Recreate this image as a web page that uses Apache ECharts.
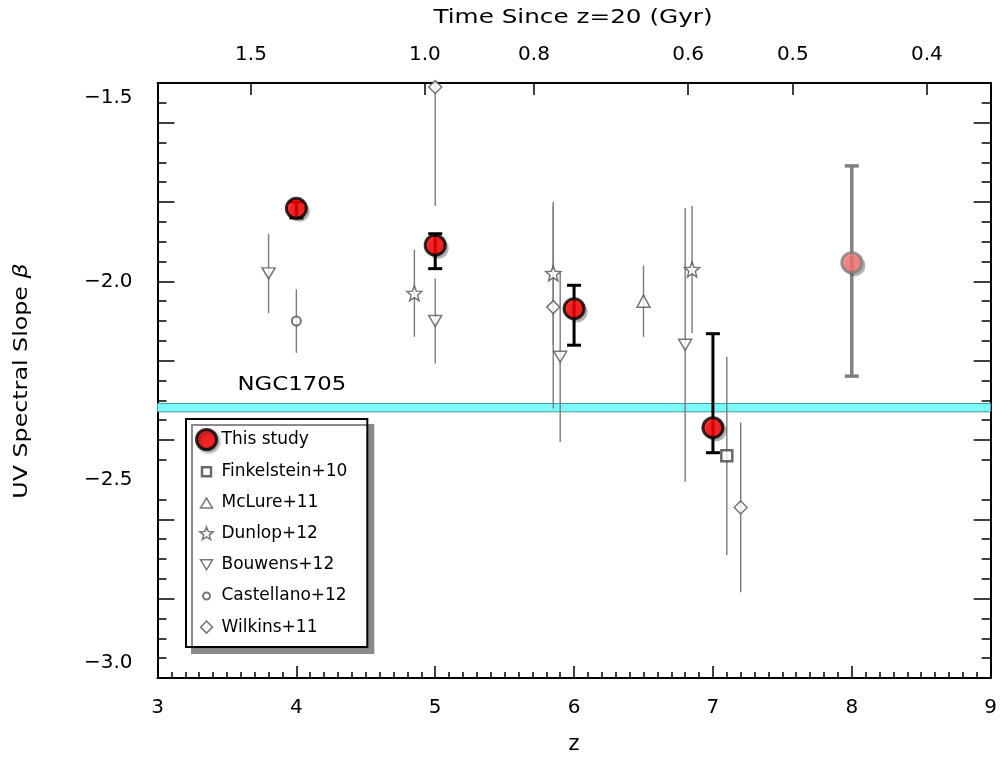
<!DOCTYPE html>
<html>
<head>
<meta charset="utf-8">
<script src="https://cdn.jsdelivr.net/npm/echarts@6/dist/echarts.min.js"></script>
<style>
  html, body { margin: 0; padding: 0; background: #ffffff; }
  #chart { width: 1000px; height: 762px; }
</style>
</head>
<body>
<div id="chart"></div>
<script>
// ---- UV spectral slope measurements ----
// This study (z = 4..7): beta with lower / upper error-bar ends
const studyZ    = [4.0, 5.0, 6.0, 7.0];
const studyBeta = [-1.816, -1.909, -2.069, -2.369];
const studyLow  = [-1.840, -1.968, -2.161, -2.432];
const studyHigh = [-1.800, -1.880, -2.010, -2.132];

// This study, z ~ 8 (shown in lighter colours)
const study8Z    = [8.0];
const study8Beta = [-1.953];
const study8Low  = [-2.239];
const study8High = [-1.709];

// Literature values: redshift, beta, symmetric 1-sigma error
const finkelZ = [7.1],              finkelBeta = [-2.44],                 finkelErr = [0.25];
const mclureZ = [6.5],              mclureBeta = [-2.05],                 mclureErr = [0.09];
const dunlopZ = [4.85, 5.85, 6.85], dunlopBeta = [-2.03, -1.98, -1.97],   dunlopErr = [0.11, 0.18, 0.16];
const bouwZ   = [3.8, 5.0, 5.9, 6.8], bouwBeta = [-1.98, -2.10, -2.19, -2.16], bouwErr = [0.10, 0.107, 0.215, 0.345];
const castZ   = [4.0],              castBeta   = [-2.10],                 castErr   = [0.08];
const wilkZ   = [5.0, 5.85, 7.2],   wilkBeta   = [-1.51, -2.065, -2.57],  wilkErr   = [0.30, 0.255, 0.214];

// NGC1705 reference band (beta range)
const ngcLow = -2.329, ngcHigh = -2.308;

// ---- axis ticks ----
const zRange = [3, 9];
const betaRange = [-3.0, -1.5];
const betaMajorTicks = [-2.8, -2.6, -2.4, -2.2, -2.0, -1.8, -1.6];
const timeTicks = [1.5, 1.0, 0.8, 0.6, 0.5, 0.4];   // Gyr since z = 20

// Flat LCDM (H0 = 70, Om = 0.3) cosmic age, used for the top time axis
const H0inv = 977.8 / 70;                // Gyr
const OmegaL = 0.7, OmegaM = 0.3;
const ageFactor = 2 / (3 * Math.sqrt(OmegaL)) * H0inv;
const kAge = Math.sqrt(OmegaL / OmegaM);
function ageAt(z) { return ageFactor * Math.asinh(kAge * Math.pow(1 + z, -1.5)); }
function zAtAge(t) { return Math.pow(Math.sinh(t / ageFactor) / kAge, -2 / 3) - 1; }
const age20 = ageAt(20);
const timeTickZ = timeTicks.map(t => zAtAge(t + age20));

const FONT = '"DejaVu Sans", sans-serif';
const MINUS = '\u2212';

// ---- helpers ----
function pairs(xs, ys) { return xs.map((x, i) => [x, ys[i]]); }
function symErr(xs, ys, es) { return xs.map((x, i) => [x, ys[i] - es[i], ys[i] + es[i]]); }
function boundsErr(xs, lo, hi) { return xs.map((x, i) => [x, lo[i], hi[i]]); }

function starPath(cx, cy, R, r) {
  let d = '';
  for (let i = 0; i < 10; i++) {
    const a = -Math.PI / 2 + i * Math.PI / 5;
    const rad = i % 2 ? r : R;
    d += (i ? 'L' : 'M') + (cx + rad * Math.cos(a)).toFixed(2) + ' ' + (cy + rad * Math.sin(a)).toFixed(2) + ' ';
  }
  return d + 'Z';
}
const STAR = 'path://' + starPath(10, 10, 10, 4.3);
// legend icons drawn inside a fixed 20x20 frame so they keep a small size
function framed(d) { return 'path://M0 0 M20 20 ' + d; }
const ICON_SQUARE  = framed('M5.5 5.5 L14.5 5.5 L14.5 14.5 L5.5 14.5 Z');
const ICON_TRI_UP  = framed('M4 15 L16 15 L10 5 Z');
const ICON_STAR    = framed(starPath(10, 10, 7, 3));
const ICON_TRI_DN  = framed('M4 5 L16 5 L10 15 Z');
const ICON_CIRCLE  = framed('M6.5 10 A3.5 3.5 0 1 0 13.5 10 A3.5 3.5 0 1 0 6.5 10 Z');
const ICON_DIAMOND = framed('M10 4 L16 10 L10 16 L4 10 Z');

function errorBarSeries(name, data, color, width, cap, z) {
  return {
    type: 'custom', name: name, z: z, clip: true, silent: true,
    renderItem: function (params, api) {
      const top = api.coord([api.value(0), api.value(2)]);
      const bot = api.coord([api.value(0), api.value(1)]);
      const style = { stroke: color, lineWidth: width };
      const kids = [{ type: 'line', shape: { x1: top[0], y1: top[1], x2: bot[0], y2: bot[1] }, style: style }];
      if (cap > 0) {
        kids.push({ type: 'line', shape: { x1: top[0] - cap / 2, y1: top[1], x2: top[0] + cap / 2, y2: top[1] }, style: style });
        kids.push({ type: 'line', shape: { x1: bot[0] - cap / 2, y1: bot[1], x2: bot[0] + cap / 2, y2: bot[1] }, style: style });
      }
      return { type: 'group', children: kids };
    },
    encode: { x: 0, y: [1, 2] },
    data: data
  };
}

// soft drop shadow drawn as its own layer under the big markers
function shadowSeries(name, data, z) {
  return {
    type: 'scatter', name: name, z: z, silent: true, data: data,
    symbol: 'circle', symbolSize: 21, symbolOffset: [3, 3],
    itemStyle: { color: 'rgba(0,0,0,0.32)', shadowColor: 'rgba(0,0,0,0.35)', shadowBlur: 3 },
    emphasis: { disabled: true }
  };
}

const litStyle = { color: '#ffffff', borderColor: '#555555', borderWidth: 1.5 };
function litScatter(name, data, symbol, size, extra) {
  return Object.assign({
    type: 'scatter', name: name, z: 3, data: data,
    symbol: symbol, symbolSize: size,
    itemStyle: Object.assign({}, litStyle),
    emphasis: { disabled: true }
  }, extra || {});
}

const legendText = { fontFamily: FONT, fontSize: 17, color: '#000' };
const legendLit = { color: '#ffffff', borderColor: '#555555', borderWidth: 1.5 };

const option = {
  backgroundColor: '#ffffff',
  animation: false,
  grid: { left: 157.5, right: 4, top: 83, bottom: 84, containLabel: false },
  graphic: [
    {
      type: 'text', x: 573, y: 18, scaleX: 1.3, silent: true,
      style: { text: 'Time Since z=20 (Gyr)', fontFamily: FONT, fontSize: 19, fill: '#000',
               align: 'center', verticalAlign: 'middle' }
    },
    {
      type: 'text', x: 22, y: 381, rotation: Math.PI / 2, scaleX: 1.25, silent: true,
      style: {
        text: '{n|UV Spectral Slope }{b|\u03b2}', align: 'center', verticalAlign: 'middle',
        rich: { n: { fontFamily: FONT, fontSize: 19, fill: '#000' },
                b: { fontFamily: FONT, fontSize: 19, fill: '#000', fontStyle: 'italic' } }
      }
    }
  ],
  legend: {
    orient: 'vertical',
    left: 186, top: 419,
    padding: [9, 20, 9, 9],
    itemWidth: 20, itemHeight: 20, itemGap: 9.4,
    backgroundColor: '#ffffff',
    borderColor: '#000000', borderWidth: 2,
    shadowColor: '#8a8a8a', shadowBlur: 0, shadowOffsetX: 6, shadowOffsetY: 6,
    textStyle: legendText,
    selectedMode: false,
    data: [
      { name: 'This study', icon: 'circle',
        itemStyle: { color: '#ff0000', borderColor: '#000', borderWidth: 3,
                     shadowColor: 'rgba(0,0,0,0.4)', shadowBlur: 3, shadowOffsetX: 2, shadowOffsetY: 2 } },
      { name: 'Finkelstein+10', icon: ICON_SQUARE, itemStyle: { color: '#fff', borderColor: '#444', borderWidth: 2.5 } },
      { name: 'McLure+11', icon: ICON_TRI_UP, itemStyle: legendLit },
      { name: 'Dunlop+12', icon: ICON_STAR, itemStyle: legendLit },
      { name: 'Bouwens+12', icon: ICON_TRI_DN, itemStyle: legendLit },
      { name: 'Castellano+12', icon: ICON_CIRCLE, itemStyle: { color: '#fff', borderColor: '#555', borderWidth: 2 } },
      { name: 'Wilkins+11', icon: ICON_DIAMOND, itemStyle: legendLit }
    ]
  },
  xAxis: [
    {
      type: 'value', position: 'bottom', min: zRange[0], max: zRange[1], interval: 1,
      name: 'z', nameLocation: 'middle', nameGap: 56,
      nameTextStyle: { fontFamily: FONT, fontSize: 21, color: '#000' },
      axisLine: { show: true, onZero: false, lineStyle: { color: '#000', width: 2 } },
      axisTick: { show: true, inside: true, length: 12, lineStyle: { color: '#000', width: 1.5 } },
      minorTick: { show: true, splitNumber: 10, length: 6, lineStyle: { color: '#000', width: 1.5 } },
      axisLabel: { fontFamily: FONT, fontSize: 20, color: '#000', margin: 20 },
      splitLine: { show: false }, minorSplitLine: { show: false }
    },
    {
      type: 'value', position: 'top', min: zRange[0], max: zRange[1],
      axisLine: { show: true, onZero: false, lineStyle: { color: '#000', width: 2 } },
      axisTick: { show: true, inside: true, length: 12, customValues: timeTickZ, lineStyle: { color: '#000', width: 1.5 } },
      axisLabel: {
        fontFamily: FONT, fontSize: 20, color: '#000', margin: 18,
        customValues: timeTickZ,
        formatter: function (v) { return (ageAt(v) - age20).toFixed(1); }
      },
      splitLine: { show: false }
    }
  ],
  yAxis: [
    {
      type: 'value', position: 'left', min: betaRange[0], max: betaRange[1], interval: 0.5,
      axisLine: { show: true, onZero: false, lineStyle: { color: '#000', width: 2 } },
      axisTick: { show: true, inside: true, length: 17, customValues: betaMajorTicks, lineStyle: { color: '#000', width: 1.5 } },
      minorTick: { show: true, splitNumber: 10, length: 9, lineStyle: { color: '#000', width: 1.5 } },
      axisLabel: {
        fontFamily: FONT, fontSize: 20, color: '#000', margin: 25,
        formatter: function (v) {
          const s = MINUS + Math.abs(v).toFixed(1);
          if (v >= betaRange[1] - 1e-9) return '{hi|' + s + '}';
          if (v <= betaRange[0] + 1e-9) return '{lo|' + s + '}';
          return s;
        },
        rich: {
          hi: { fontFamily: FONT, fontSize: 20, color: '#000', padding: [30, 0, 0, 0] },
          lo: { fontFamily: FONT, fontSize: 20, color: '#000', padding: [0, 0, 30, 0] }
        }
      },
      splitLine: { show: false }, minorSplitLine: { show: false }
    },
    {
      type: 'value', position: 'right', min: betaRange[0], max: betaRange[1], interval: 0.5,
      axisLine: { show: true, onZero: false, lineStyle: { color: '#000', width: 2 } },
      axisTick: { show: true, inside: true, length: 17, customValues: betaMajorTicks, lineStyle: { color: '#000', width: 1.5 } },
      minorTick: { show: true, splitNumber: 10, length: 9, lineStyle: { color: '#000', width: 1.5 } },
      axisLabel: { show: false },
      splitLine: { show: false }, minorSplitLine: { show: false }
    }
  ],
  series: [
    // NGC1705 band
    {
      type: 'custom', name: 'NGC1705', z: 1, silent: true, clip: true,
      renderItem: function (params, api) {
        const p1 = api.coord([zRange[0], api.value(1)]);
        const p2 = api.coord([zRange[1], api.value(0)]);
        return {
          type: 'group',
          children: [
            { type: 'rect', shape: { x: p1[0], y: p1[1], width: p2[0] - p1[0], height: p2[1] - p1[1] },
              style: { fill: '#7ef9f9', stroke: '#3d9f9f', lineWidth: 1 } },
            { type: 'text', x: p1[0] + 80, y: p1[1] - 9, scaleX: 1.2,
              style: { text: 'NGC1705', fontFamily: FONT, fontSize: 19, fill: '#000', align: 'left', verticalAlign: 'bottom' } }
          ]
        };
      },
      data: [[ngcLow, ngcHigh]]
    },
    // literature error bars
    errorBarSeries('Finkelstein+10 err', symErr(finkelZ, finkelBeta, finkelErr), '#7a7a7a', 1.4, 0, 2),
    errorBarSeries('McLure+11 err', symErr(mclureZ, mclureBeta, mclureErr), '#7a7a7a', 1.4, 0, 2),
    errorBarSeries('Dunlop+12 err', symErr(dunlopZ, dunlopBeta, dunlopErr), '#7a7a7a', 1.4, 0, 2),
    errorBarSeries('Bouwens+12 err', symErr(bouwZ, bouwBeta, bouwErr), '#7a7a7a', 1.4, 0, 2),
    errorBarSeries('Castellano+12 err', symErr(castZ, castBeta, castErr), '#7a7a7a', 1.4, 0, 2),
    errorBarSeries('Wilkins+11 err', symErr(wilkZ, wilkBeta, wilkErr), '#7a7a7a', 1.4, 0, 2),
    // literature markers
    litScatter('Finkelstein+10', pairs(finkelZ, finkelBeta), 'rect', 11,
               { itemStyle: { color: '#fff', borderColor: '#444', borderWidth: 2.5 } }),
    litScatter('McLure+11', pairs(mclureZ, mclureBeta), 'triangle', [13, 12]),
    litScatter('Dunlop+12', pairs(dunlopZ, dunlopBeta), STAR, 15),
    litScatter('Bouwens+12', pairs(bouwZ, bouwBeta), 'triangle', [13, 11], { symbolRotate: 180 }),
    litScatter('Castellano+12', pairs(castZ, castBeta), 'circle', 9,
               { itemStyle: { color: '#fff', borderColor: '#555', borderWidth: 2 } }),
    litScatter('Wilkins+11', pairs(wilkZ, wilkBeta), 'diamond', 13),
    // this study, z ~ 8
    errorBarSeries('This study z8 err', boundsErr(study8Z, study8Low, study8High), '#808080', 3.5, 14, 4),
    shadowSeries('This study z8 shadow', pairs(study8Z, study8Beta), 5),
    {
      type: 'scatter', name: 'This study z8', z: 6, data: pairs(study8Z, study8Beta),
      symbol: 'circle', symbolSize: 20,
      itemStyle: { color: '#ff7878', borderColor: '#808080', borderWidth: 3 },
      emphasis: { disabled: true }
    },
    // this study, z = 4..7
    errorBarSeries('This study err', boundsErr(studyZ, studyLow, studyHigh), '#000000', 3, 14, 4),
    shadowSeries('This study shadow', pairs(studyZ, studyBeta), 5),
    {
      type: 'scatter', name: 'This study', z: 6, data: pairs(studyZ, studyBeta),
      symbol: 'circle', symbolSize: 20,
      itemStyle: { color: '#ff0000', borderColor: '#000000', borderWidth: 3 },
      emphasis: { disabled: true }
    }
  ]
};

const chart = echarts.init(document.getElementById('chart'), null, { renderer: 'canvas' });
chart.setOption(option);
</script>
</body>
</html>
